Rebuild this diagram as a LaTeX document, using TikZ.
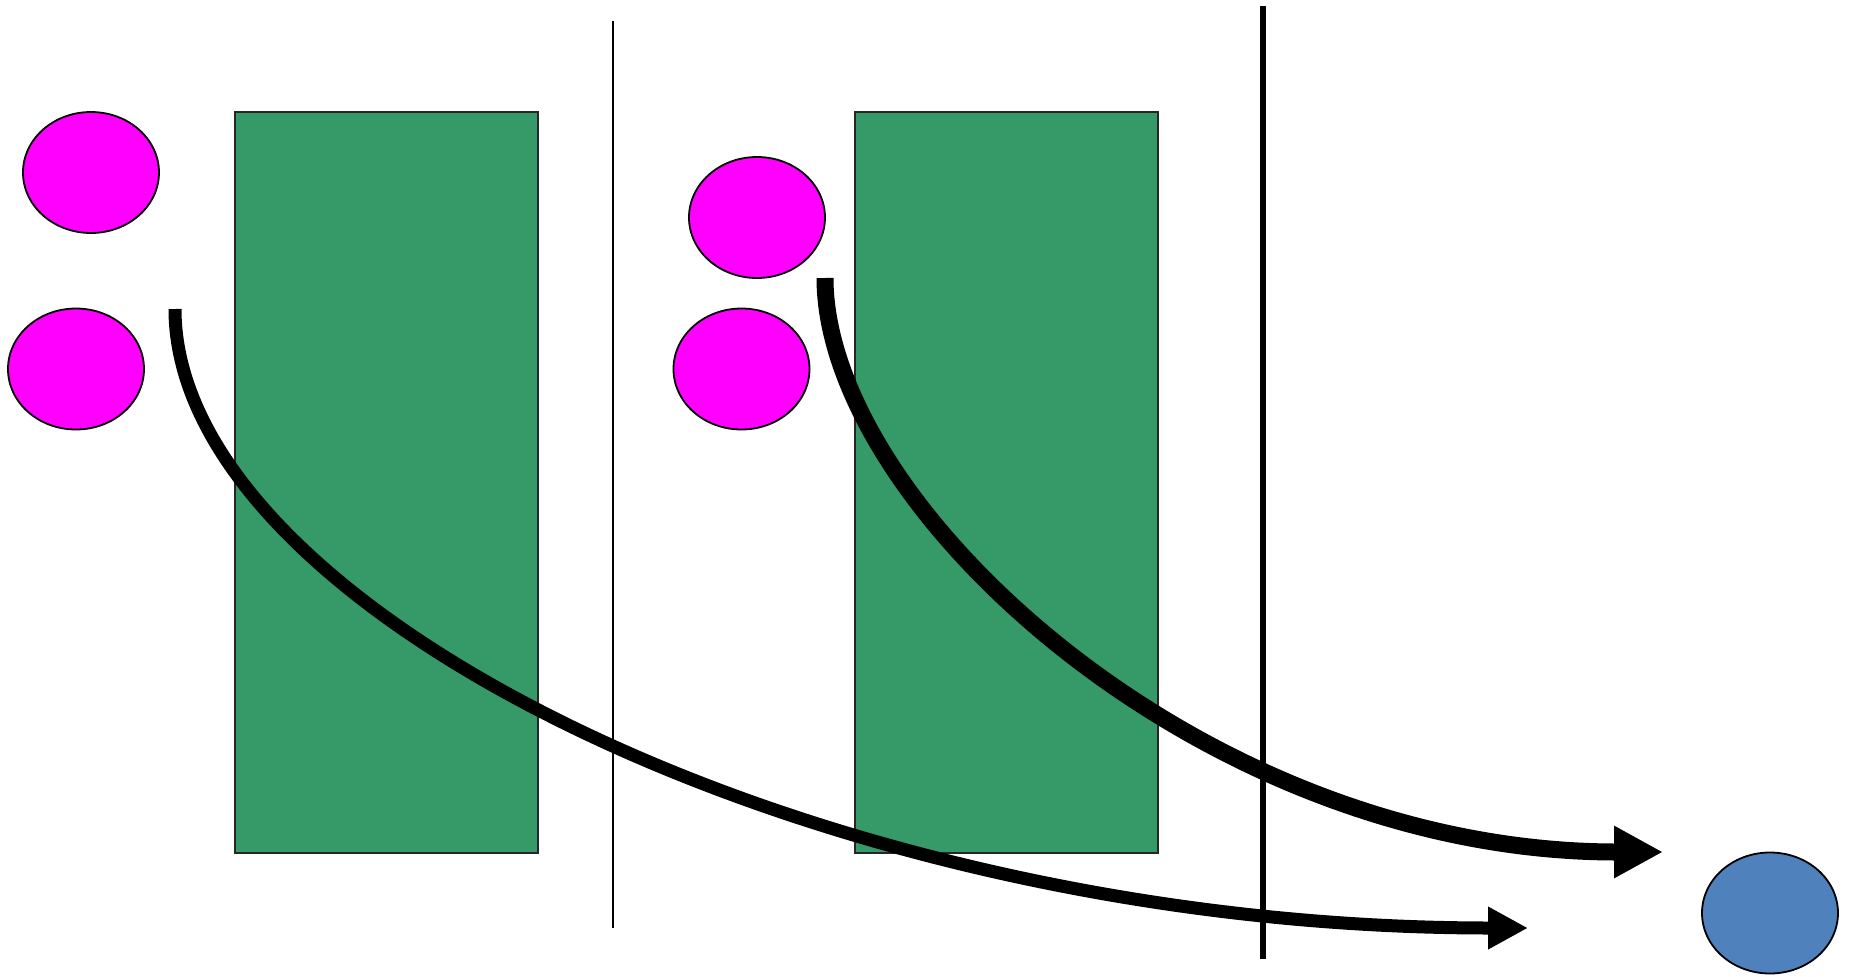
\documentclass[tikz,border=0pt]{standalone}
\usetikzlibrary{arrows.meta, shapes.geometric}
\definecolor{mMagenta}{HTML}{FF00FF}
\definecolor{mGreen}{HTML}{359968}
\definecolor{mBlue}{HTML}{4F81BD}

\begin{document}
\begin{tikzpicture}[x=0.5pt, y=-0.5pt,
  blob/.style={ellipse, draw=black, line width=0.9pt, fill=#1, inner sep=0pt,
               minimum width=68pt, minimum height=60.5pt},
  blob/.default=mMagenta,
  slab/.style={draw=black!85, line width=0.6pt, fill=mGreen, inner sep=0pt,
               minimum width=151.5pt, minimum height=370.5pt},
  wall/.style={draw=black, line width=#1},
  arr/.style={-{Triangle[length=#1, width=#1]}, draw=black}]
  \useasboundingbox (0,0) rectangle (1849,976);
  % membranes
  \node[slab] (g1) at (386.5,482.5) {};
  \node[slab] (g2) at (1006.5,482.5) {};
  \coordinate (w1t) at (613,21);   \coordinate (w1b) at (613,928);
  \coordinate (w2t) at (1263,6);   \coordinate (w2b) at (1263,959);
  \draw[wall=1pt] (w1t) -- (w1b);
  \draw[wall=3.2pt] (w2t) -- (w2b);
  % particles
  \node[blob] (p1) at (91,172.5) {};
  \node[blob] (p2) at (76,369) {};
  \node[blob] (p3) at (757,217.5) {};
  \node[blob] (p4) at (741.5,369) {};
  \node[blob=mBlue] (q1) at (1770,913) {};
  % paths
  \coordinate (a1s) at (175,309);  \coordinate (a1e) at (1528,928);
  \coordinate (a2s) at (825,278);  \coordinate (a2e) at (1663,852);
  \draw[arr=20pt, line width=6.5pt] (a1s) .. controls (175,610) and (820,928) .. (a1e);
  \draw[arr=24.5pt, line width=8.5pt] (a2s) .. controls (825,505) and (1200,852) .. (a2e);
\end{tikzpicture}
\end{document}
